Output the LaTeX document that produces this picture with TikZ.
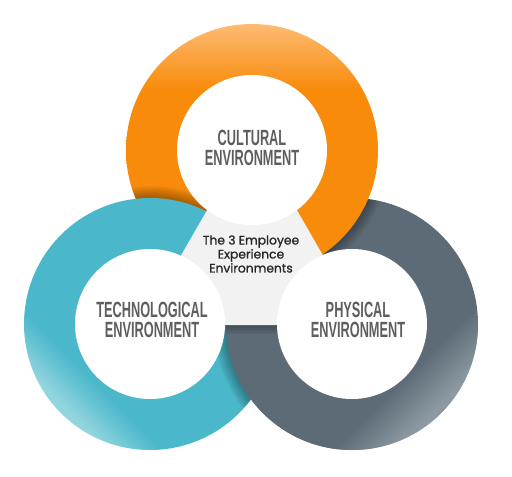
\documentclass[tikz,border=0pt]{standalone}
\usepackage{fontspec}
\newfontfamily\ringfont[FakeStretch=0.58]{Liberation Sans}
\newfontfamily\hubfont[FakeBold=1]{Poppins}
\definecolor{orangemain}{HTML}{F98B0B}
\definecolor{orangelight}{HTML}{FDBB72}
\definecolor{tealmain}{HTML}{4AB8CA}
\definecolor{teallight}{HTML}{93D5DF}
\definecolor{slatemain}{HTML}{5D6B76}
\definecolor{slatelight}{HTML}{8D9AA3}
\definecolor{hubgray}{HTML}{F2F2F2}
\definecolor{labelgray}{HTML}{5E5E5E}
\pgfdeclareverticalshading{orangering}{100bp}{color(0bp)=(orangemain); color(62bp)=(orangemain); color(75bp)=(orangelight); color(100bp)=(orangelight)}
\pgfdeclareverticalshading{tealring}{100bp}{color(0bp)=(teallight); color(26bp)=(teallight); color(34bp)=(tealmain); color(100bp)=(tealmain)}
\pgfdeclareverticalshading{slatering}{100bp}{color(0bp)=(slatelight); color(26bp)=(slatelight); color(35bp)=(slatemain); color(100bp)=(slatemain)}

\begin{document}
\begin{tikzpicture}[x=1pt,y=1pt,
    ringlabel/.style={align=center,text=labelgray,inner sep=0pt,font=\ringfont\bfseries\fontsize{22}{20}\selectfont},
    hublabel/.style={align=center,text=black!85,inner sep=0pt,font=\hubfont\fontsize{12.3}{14}\selectfont},
    castshadow/.style={draw=black,opacity=0.045}]
    \useasboundingbox (0,0) rectangle (512,-477);
    \coordinate (C) at (252,-150);
    \coordinate (T) at (150,-324);
    \coordinate (P) at (352,-324);

    % physical ring, lies under the cultural one
    \shade[shading=slatering,shading angle=45] (P) circle (126pt);
    \begin{scope}
        \clip (P) circle (126pt);
        \foreach \w in {3,6,...,24}
            \draw[castshadow,line width=\w pt] (C) circle (126pt);
    \end{scope}

    % cultural ring
    \shade[shading=orangering] (C) circle (126pt);
    \begin{scope}
        \clip (C) circle (126pt);
        \foreach \w in {3,6,...,24}
            \draw[castshadow,line width=\w pt] (T) circle (126pt);
    \end{scope}

    % technological ring
    \shade[shading=tealring,shading angle=-45] (T) circle (126pt);
    \begin{scope}
        \clip (0,-325) rectangle (512,-477);
        \clip (T) circle (126pt);
        \foreach \w in {3,6,...,24}
            \draw[castshadow,line width=\w pt] (P) circle (126pt);
    \end{scope}

    % physical ring again, over the technological one
    \begin{scope}
        \clip (0,-325) rectangle (512,-477);
        \shade[shading=slatering,shading angle=45] (P) circle (126pt);
        \clip (P) circle (126pt);
        \foreach \w in {3,6,...,18}
            \draw[castshadow,line width=\w pt] (141,-325) -- (363,-325);
    \end{scope}

    % hub
    \fill[hubgray] (252,-132) -- (141,-325) -- (363,-325) -- cycle;
    \fill[white] (C) circle (75pt);
    \fill[white] (T) circle (75pt);
    \fill[white] (P) circle (75pt);

    \node[ringlabel] (cultural) at (252,-148) {CULTURAL\\ENVIRONMENT};
    \node[ringlabel] (technological) at (152,-320) {TECHNOLOGICAL\\ENVIRONMENT};
    \node[ringlabel] (physical) at (358,-320) {PHYSICAL\\ENVIRONMENT};
    \node[hublabel] (hub) at (251,-254) {The 3 Employee\\Experience\\Environments};
\end{tikzpicture}
\end{document}
